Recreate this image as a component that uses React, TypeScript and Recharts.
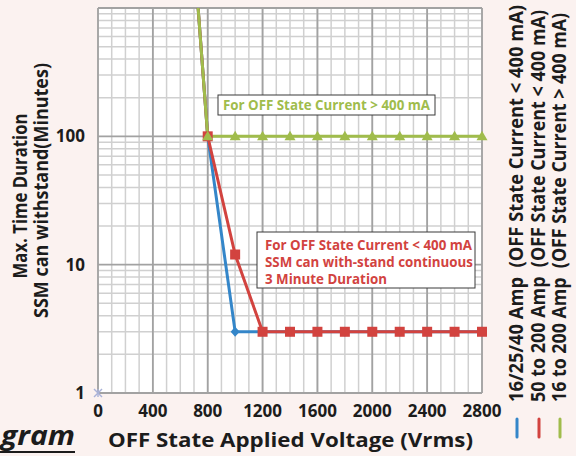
import React from "react";
import { ComposedChart, Line, XAxis, YAxis, CartesianGrid } from "recharts";

const BLUE = "#3486C9";
const RED = "#D2433F";
const GREEN = "#A0BC4C";
const BG = "#FBF2F0";
const INK = "#1c1c1c";
const FONT = "'Open Sans', sans-serif";

// axis ticks
const voltTicks = [0, 400, 800, 1200, 1600, 2000, 2400, 2800];
const timeTicks = [1, 10, 100];
const majorTimes = [1, 10, 100, 1000];
const minorVolts = [
  0, 100, 200, 300, 400, 500, 600, 700, 800, 900, 1000, 1100, 1200, 1300, 1400,
  1500, 1600, 1700, 1800, 1900, 2000, 2100, 2200, 2300, 2400, 2500, 2600, 2700, 2800,
];
const minorTimes = [
  2, 3, 4, 5, 6, 7, 8, 9, 20, 30, 40, 50, 60, 70, 80, 90,
  200, 300, 400, 500, 600, 700, 800, 900,
];

// series (voltage in Vrms, time in minutes)
const blueVolts = [730, 800, 1000, 1200, 1400, 1600, 1800, 2000, 2200, 2400, 2600, 2800];
const blueTimes = [1000, 100, 3, 3, 3, 3, 3, 3, 3, 3, 3, 3];
const redVolts = [730, 800, 1000, 1200, 1400, 1600, 1800, 2000, 2200, 2400, 2600, 2800];
const redTimes = [1000, 100, 12, 3, 3, 3, 3, 3, 3, 3, 3, 3];
const greenVolts = [730, 800, 1000, 1200, 1400, 1600, 1800, 2000, 2200, 2400, 2600, 2800];
const greenTimes = [1000, 100, 100, 100, 100, 100, 100, 100, 100, 100, 100, 100];
const originVolts = [0];
const originTimes = [1];

const seriesNames = [
  "16/25/40 Amp  (OFF State Current < 400 mA)",
  "50 to 200 Amp  (OFF State Current < 400 mA)",
  "16 to 200 Amp  (OFF State Current > 400 mA)",
];
const seriesColors = [BLUE, RED, GREEN];

const toRows = (vs: number[], ts: number[]) => vs.map((v, i) => ({ v, t: ts[i] }));

const blueData = toRows(blueVolts, blueTimes);
const redData = toRows(redVolts, redTimes);
const greenData = toRows(greenVolts, greenTimes);
const originData = toRows(originVolts, originTimes);

const hidden = (p: any) => p.payload.t >= 1000;

const diamondDot = (p: any) =>
  hidden(p) ? (
    <g key={p.key} />
  ) : (
    <path
      key={p.key}
      d={`M${p.cx},${p.cy - 5} L${p.cx + 4.5},${p.cy} L${p.cx},${p.cy + 5} L${p.cx - 4.5},${p.cy} Z`}
      fill={BLUE}
    />
  );

const squareDot = (p: any) =>
  hidden(p) ? (
    <g key={p.key} />
  ) : (
    <rect key={p.key} x={p.cx - 5} y={p.cy - 5} width={10} height={10} fill={RED} />
  );

const triangleDot = (p: any) =>
  hidden(p) ? (
    <g key={p.key} />
  ) : (
    <path
      key={p.key}
      d={`M${p.cx},${p.cy - 5.5} L${p.cx + 5.5},${p.cy + 4} L${p.cx - 5.5},${p.cy + 4} Z`}
      fill={GREEN}
    />
  );

const crossDot = (p: any) => (
  <g key={p.key} stroke="#A9B2D8" strokeWidth={1.4}>
    <line x1={p.cx - 4} y1={p.cy - 4} x2={p.cx + 4} y2={p.cy + 4} />
    <line x1={p.cx - 4} y1={p.cy + 4} x2={p.cx + 4} y2={p.cy - 4} />
    <line x1={p.cx} y1={p.cy - 4} x2={p.cx} y2={p.cy + 4} />
  </g>
);

const tickStyle = { fill: INK, fontSize: 17, fontWeight: 700, fontFamily: FONT };

export default function App() {
  const legendX = [523, 545, 566];
  const legendLen = [397, 392, 389];
  return (
    <div style={{ position: "relative", width: 576, height: 456, background: BG, overflow: "hidden" }}>
      <style>{`body{margin:0}`}</style>
      <ComposedChart width={576} height={456} margin={{ top: 8, right: 94, bottom: 0, left: 0 }}>
        <CartesianGrid
          fill="#ffffff"
          stroke="#d0d0d0"
          strokeWidth={1.5}
          horizontalValues={minorTimes}
          verticalValues={minorVolts}
        />
        <CartesianGrid
          stroke="#a2a2a2"
          strokeWidth={1.8}
          horizontalValues={majorTimes}
          verticalValues={voltTicks}
        />
        <XAxis
          type="number"
          dataKey="v"
          domain={[0, 2800]}
          ticks={voltTicks}
          interval={0}
          height={63}
          axisLine={false}
          tickLine={false}
          tickMargin={6}
          tick={tickStyle}
        />
        <YAxis
          type="number"
          dataKey="t"
          scale="log"
          domain={[1, 1000]}
          ticks={timeTicks}
          interval={0}
          width={98}
          axisLine={false}
          tickLine={false}
          tickMargin={7}
          tick={tickStyle}
        />
        <Line
          data={originData}
          dataKey="t"
          stroke="none"
          dot={crossDot}
          isAnimationActive={false}
        />
        <Line
          data={blueData}
          dataKey="t"
          stroke={BLUE}
          strokeWidth={3}
          dot={diamondDot}
          activeDot={false}
          isAnimationActive={false}
        />
        <Line
          data={redData}
          dataKey="t"
          stroke={RED}
          strokeWidth={3}
          dot={squareDot}
          activeDot={false}
          isAnimationActive={false}
        />
        <Line
          data={greenData}
          dataKey="t"
          stroke={GREEN}
          strokeWidth={3}
          dot={triangleDot}
          activeDot={false}
          isAnimationActive={false}
        />
      </ComposedChart>

      <svg
        width={576}
        height={456}
        style={{ position: "absolute", left: 0, top: 0, pointerEvents: "none" }}
        fontFamily={FONT}
        fontWeight={700}
      >
        {/* y axis title */}
        <text transform="translate(27,196) rotate(-90)" textAnchor="middle" fontSize={19} fill={INK}
          textLength={165} lengthAdjust="spacingAndGlyphs">
          Max. Time Duration
        </text>
        <text transform="translate(48,190.5) rotate(-90)" textAnchor="middle" fontSize={19} fill={INK}
          textLength={255} lengthAdjust="spacingAndGlyphs">
          SSM can withstand(Minutes)
        </text>

        {/* x axis title */}
        <text x={290.5} y={447} textAnchor="middle" fontSize={20} fill={INK}
          textLength={365} lengthAdjust="spacingAndGlyphs">
          OFF State Applied Voltage (Vrms)
        </text>

        {/* clipped caption */}
        <text x={1} y={445} fontSize={26} fontStyle="italic" fill={INK}
          textLength={74} lengthAdjust="spacingAndGlyphs">
          gram
        </text>
        <line x1={0} y1={452} x2={75} y2={452} stroke={INK} strokeWidth={2} />

        {/* annotations */}
        <rect x={218} y={95} width={217} height={20} fill="#fff" stroke="#3a3a3a" strokeWidth={1} />
        <text x={223} y={110} fontSize={14} fill={GREEN} textLength={207} lengthAdjust="spacingAndGlyphs">
          For OFF State Current &gt; 400 mA
        </text>

        <rect x={257} y={232} width={218} height={56} fill="#fff" stroke="#3a3a3a" strokeWidth={1} />
        <text x={265} y={250} fontSize={14} fill={RED} textLength={207} lengthAdjust="spacingAndGlyphs">
          For OFF State Current &lt; 400 mA
        </text>
        <text x={265} y={267} fontSize={14} fill={RED} textLength={208} lengthAdjust="spacingAndGlyphs">
          SSM can with-stand continuous
        </text>
        <text x={265} y={284} fontSize={14} fill={RED} textLength={122} lengthAdjust="spacingAndGlyphs">
          3 Minute Duration
        </text>

        {/* legend */}
        {seriesNames.map((name, i) => (
          <g key={name}>
            <text
              transform={`translate(${legendX[i]},402) rotate(-90)`}
              fontSize={19}
              fill={INK}
              textLength={legendLen[i]}
              lengthAdjust="spacingAndGlyphs"
              style={{ whiteSpace: "pre" }}
            >
              {name}
            </text>
            <line
              x1={legendX[i] - 6}
              y1={419}
              x2={legendX[i] - 6}
              y2={437}
              stroke={seriesColors[i]}
              strokeWidth={3}
              strokeLinecap="round"
            />
          </g>
        ))}
      </svg>
    </div>
  );
}
